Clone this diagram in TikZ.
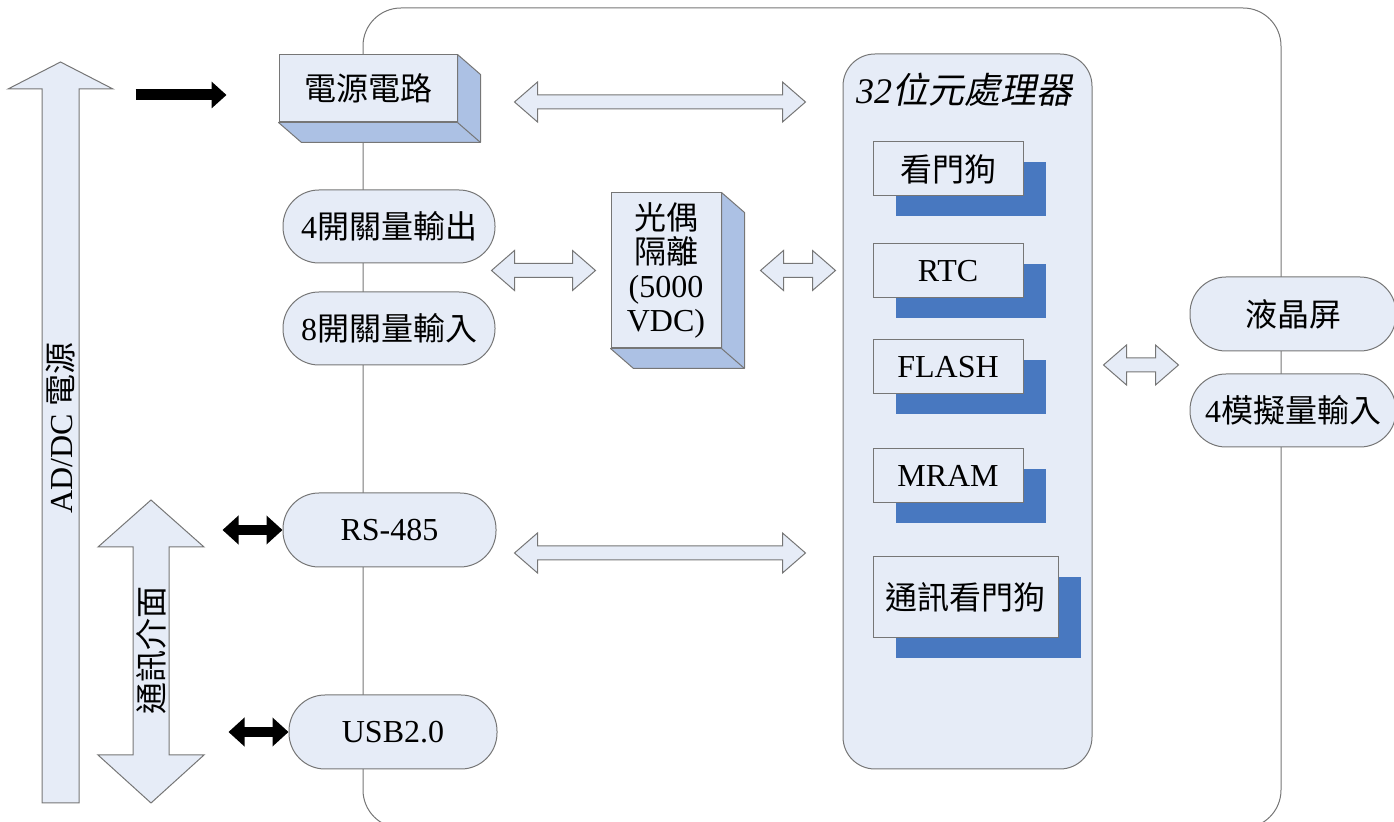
\documentclass[tikz,border=0pt]{standalone}
\usepackage{fontspec}
\setmainfont{Liberation Serif}
\newfontfamily\zhfont{Noto Sans CJK TC}
\newfontfamily\zhslant[FakeSlant=0.2]{Noto Sans CJK TC}
\newcommand{\zh}[1]{{\zhfont #1}}
\usepackage{tikz}
\usetikzlibrary{positioning, calc, arrows.meta, shadows}

\definecolor{paleblue}{RGB}{230,236,247}
\definecolor{sideblue}{RGB}{172,193,228}
\definecolor{shadowblue}{RGB}{72,120,192}
\definecolor{edgegray}{RGB}{118,118,118}

% hollow two-headed arrow, y taken from the first point
\newcommand{\duplex}[2]{%
  \draw[hollow] let \p1=#1, \p2=#2 in
    (\x1,\y1) -- (\x1+11.5pt,\y1+10pt) -- (\x1+11.5pt,\y1+3.5pt)
    -- (\x2-11.5pt,\y1+3.5pt) -- (\x2-11.5pt,\y1+10pt) -- (\x2,\y1)
    -- (\x2-11.5pt,\y1-10pt) -- (\x2-11.5pt,\y1-3.5pt)
    -- (\x1+11.5pt,\y1-3.5pt) -- (\x1+11.5pt,\y1-10pt) -- cycle;}
% side and bottom faces of a box
\newcommand{\slab}[1]{%
  \draw[side] (#1.north east) -- ++(23,20) -- ($(#1.south east)+(23,20)$)
    -- ($(#1.south west)+(23,20)$) -- (#1.south west) -- (#1.south east) -- cycle;
  \draw[side] (#1.south east) -- ++(23,20);}

\begin{document}
\begin{tikzpicture}[
        x=0.5pt, y=-0.5pt, % one unit = one pixel of the sketch
        every node/.style={font=\fontsize{16pt}{17pt}\selectfont, inner sep=0pt},
        block/.style={draw=edgegray, fill=paleblue, line width=0.5pt},
        pill/.style={block, rounded corners=18pt, minimum height=36.5pt},
        chip/.style={block, minimum width=75pt, minimum height=27pt,
                     drop shadow={shadow xshift=11.5pt, shadow yshift=-10pt, fill=shadowblue, opacity=1}},
        side/.style={draw=edgegray, fill=sideblue, line width=0.5pt, line join=round},
        hollow/.style={draw=edgegray, fill=paleblue, line width=0.5pt},
        bus/.style={line width=5pt, {Triangle[length=8pt,width=14pt]}-{Triangle[length=8pt,width=14pt]}},
        feed/.style={line width=5.5pt, -{Triangle[length=7.5pt,width=13pt]}}
    ]
    \useasboundingbox (0,0) rectangle (1394,822);
    \clip (0,0) rectangle (1394,822);

    % board outline
    \draw[draw=edgegray, line width=0.5pt, rounded corners=19pt] (363,8) rectangle (1281,828);

    \node[block, minimum width=89pt, minimum height=33.5pt] (Power) at (368,88.5) {\zh{電源電路}};
    \node[pill, minimum width=106pt] (Out4) at (389,226.5) {4\zh{開關量輸出}};
    \node[pill, minimum width=106pt, below=14pt of Out4] (In8) {8\zh{開關量輸入}};
    \node[pill, minimum width=106.5pt, minimum height=37pt] (RS485) at (389.5,530) {RS-485};
    \node[pill, minimum width=104pt, minimum height=37pt] (USB) at (393,732) {USB2.0};
    \node[block, minimum width=55pt, minimum height=77.5pt, align=center] (Opto) at (666,270.5)
        {\zh{光偶}\\\zh{隔離}\\(5000\\VDC)};
    \slab{Power}
    \slab{Opto}

    \node[block, rounded corners=16pt, minimum width=124.5pt, minimum height=357.5pt] (CPU) at (967.5,411.5) {};
    \node (CPUname) at (964,90) {\fontsize{18pt}{20pt}\selectfont\itshape 32\zhslant 位元處理器};
    \node[chip] (WDT) at (948,169) {\zh{看門狗}};
    \node[chip, below=23.5pt of WDT] (RTC) {RTC};
    \node[chip, below=20.5pt of RTC] (FLASH) {FLASH};
    \node[chip, below=27pt of FLASH] (MRAM) {MRAM};
    \node[chip, minimum width=92.5pt, minimum height=40.5pt] (CommWDT) at (965.5,597.5) {\zh{通訊看門狗}};

    \node[pill, minimum width=103pt, minimum height=37pt] (LCD) at (1293,314) {\zh{液晶屏}};
    \node[pill, minimum width=103pt, below=11pt of LCD] (Analog) {4\zh{模擬量輸入}};

    % fat arrows on the left
    \draw[hollow] (42,803) -- (42,89) -- (8,89) -- (60.5,62) -- (113,89) -- (79,89) -- (79,803) -- cycle;
    \node[rotate=90] (Mains) at (60.5,428) {AD/DC \zh{電源}};
    \draw[hollow] (133,755) -- (133,547) -- (98,547) -- (151,500) -- (204,547) -- (169,547)
        -- (169,755) -- (204,755) -- (151,803) -- (98,755) -- cycle;
    \node[rotate=90] (Comm) at (151,651) {\zh{通訊介面}};

    \draw[feed] ($(Power.west)+(-143,6.5)$) -- ($(Power.west)+(-52,6.5)$);
    \draw[bus] ($(RS485.west)+(-60,0)$) -- (RS485.west);
    \draw[bus] ($(USB.west)+(-60,0)$) -- (USB.west);

    % links to the processor
    \duplex{($(Power.east)+(57,13.5)$)}{($(CPU.west)+(-37,0)$)}
    \duplex{($(Out4.east |- Opto.west)+(-4,0)$)}{($(Opto.west)+(-15,0)$)}
    \duplex{($(Opto.east)+(39,0)$)}{($(CPU.west)+(-7,0)$)}
    \duplex{($(RS485.east)+(18,23)$)}{($(CPU.west)+(-37,0)$)}
    \duplex{($(CPU.east)+(11,-46.5)$)}{($(LCD.west)+(-11,0)$)}
\end{tikzpicture}
\end{document}
